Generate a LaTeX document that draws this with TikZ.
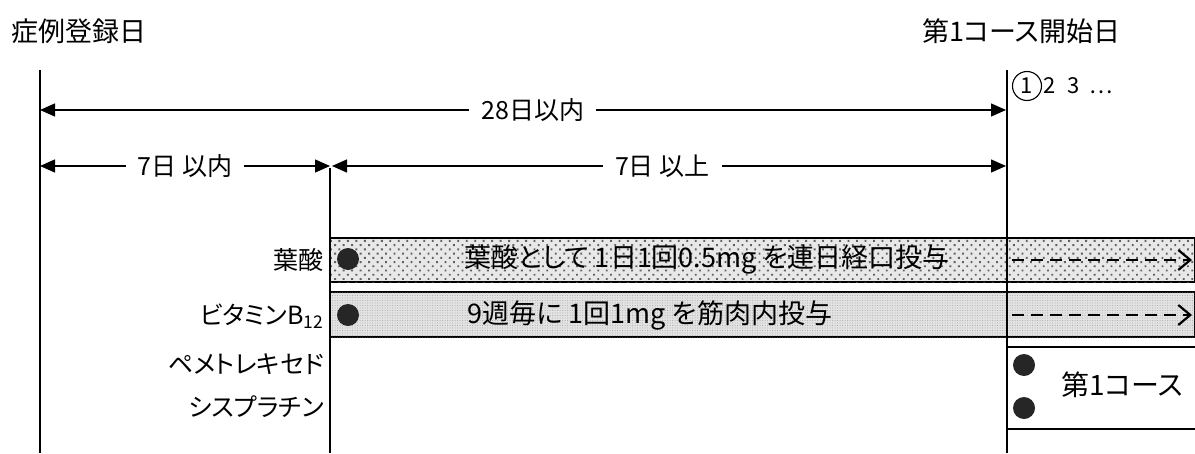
\documentclass[tikz,border=0pt]{standalone}
\usepackage{fontspec}
\setmainfont{Noto Sans CJK JP}[RawFeature=+palt]
\usetikzlibrary{arrows.meta,patterns,patterns.meta}
\tikzset{
  vline/.style={line width=1.4pt},
  dim/.style={line width=1.4pt,{Triangle[length=15pt,width=13pt]}-{Triangle[length=15pt,width=13pt]}},
  dimlabel/.style={fill=white,inner xsep=12pt,font=\fontsize{25}{28}\selectfont},
  title/.style={font=\fontsize{27}{30}\selectfont},
  rowlabel/.style={anchor=east,font=\fontsize{25}{28}\selectfont,inner sep=0pt},
  band1/.style={draw,line width=1.2pt,fill=gray!18,postaction={pattern={Dots[distance=6pt,radius=1.3pt,angle=45]},pattern color=gray!75!black}},
  band2/.style={draw,line width=1.2pt,fill=gray!22,postaction={pattern={Dots[distance=2.5pt,radius=0.5pt]},pattern color=gray!70}},
  dot/.style={circle,fill=black!85,minimum size=22pt,inner sep=0pt},
  bandtext/.style={font=\fontsize{27}{30}\selectfont,inner sep=0pt},
  darrow/.style={line width=2.2pt,dash pattern=on 12pt off 7pt,-{Straight Barb[length=12pt,width=20pt,line width=2.2pt]}},
  daycircle/.style={circle,draw,line width=1.1pt,inner sep=0pt,minimum size=29pt},
}
\begin{document}
\begin{tikzpicture}[x=1pt,y=-1pt]
\useasboundingbox (0,0) rectangle (1195,453);
% titles
\node[title,anchor=west] (t1) at (8,31) {症例登録日};
\node[title,anchor=east] (t2) at (1124,31) {第1コース開始日};
% vertical lines
\coordinate (L0) at (40,70); \coordinate (L1) at (40,453);
\coordinate (M0) at (330,168); \coordinate (M1) at (330,453);
\coordinate (R0) at (1007,70); \coordinate (R1) at (1007,453);
% bands
\path[band1] (330,238) rectangle (1195,282);
\path[band2] (330,292) rectangle (1195,337);
\draw[vline] (L0) -- (L1);
\draw[vline] (M0) -- (M1);
\draw[vline] (R0) -- (R1);
% course lines
\coordinate (C0) at (1007,347); \coordinate (C1) at (1195,347);
\coordinate (C2) at (1007,429); \coordinate (C3) at (1195,429);
\draw[line width=1.2pt] (C0) -- (C1);
\draw[line width=1.2pt] (C2) -- (C3);
% dimension arrows
\coordinate (a0) at (40,110); \coordinate (a1) at (1006,110);
\draw[dim] (a0) -- node[dimlabel,pos=0.51] {28日以内} (a1);
\coordinate (b0) at (40,166); \coordinate (b1) at (330,166);
\coordinate (b2) at (332,166); \coordinate (b3) at (1006,166);
\draw[dim] (b0) -- node[dimlabel,pos=0.5] {7日 以内} (b1);
\draw[dim] (b2) -- node[dimlabel,pos=0.49] {7日 以上} (b3);
% cycle days
\node[daycircle,font=\fontsize{22}{24}\selectfont] (c1) at (1027,86) {1};
\node[font=\fontsize{22}{24}\selectfont,anchor=west,inner sep=0pt] (days) at (1043,86) {2\hspace{12pt}3\hspace{10pt}⋯};
% row labels
\node[rowlabel] (l1) at (324,260) {葉酸};
\node[rowlabel] (l2) at (324,316) {ビタミンB\textsubscript{12}};
\node[rowlabel] (l3) at (324,364) {ペメトレキセド};
\node[rowlabel] (l4) at (324,407) {シスプラチン};
% dots
\node[dot] (d1) at (348,259) {};
\node[dot] (d2) at (348,315) {};
\node[dot] (d3) at (1024,365) {};
\node[dot] (d4) at (1024,408) {};
% band texts
\node[bandtext] (bt1) at (707,260) {葉酸として 1日1回0.5mg を連日経口投与};
\node[bandtext] (bt2) at (650,315) {9週毎に 1回1mg を筋肉内投与};
\node[font=\fontsize{28}{30}\selectfont] (course) at (1122,385) {第1コース};
% dashed continuation arrows
\coordinate (e0) at (1012,260); \coordinate (e1) at (1192,260);
\coordinate (f0) at (1012,315); \coordinate (f1) at (1192,315);
\draw[darrow] (e0) -- (e1);
\draw[darrow] (f0) -- (f1);
\end{tikzpicture}
\end{document}
